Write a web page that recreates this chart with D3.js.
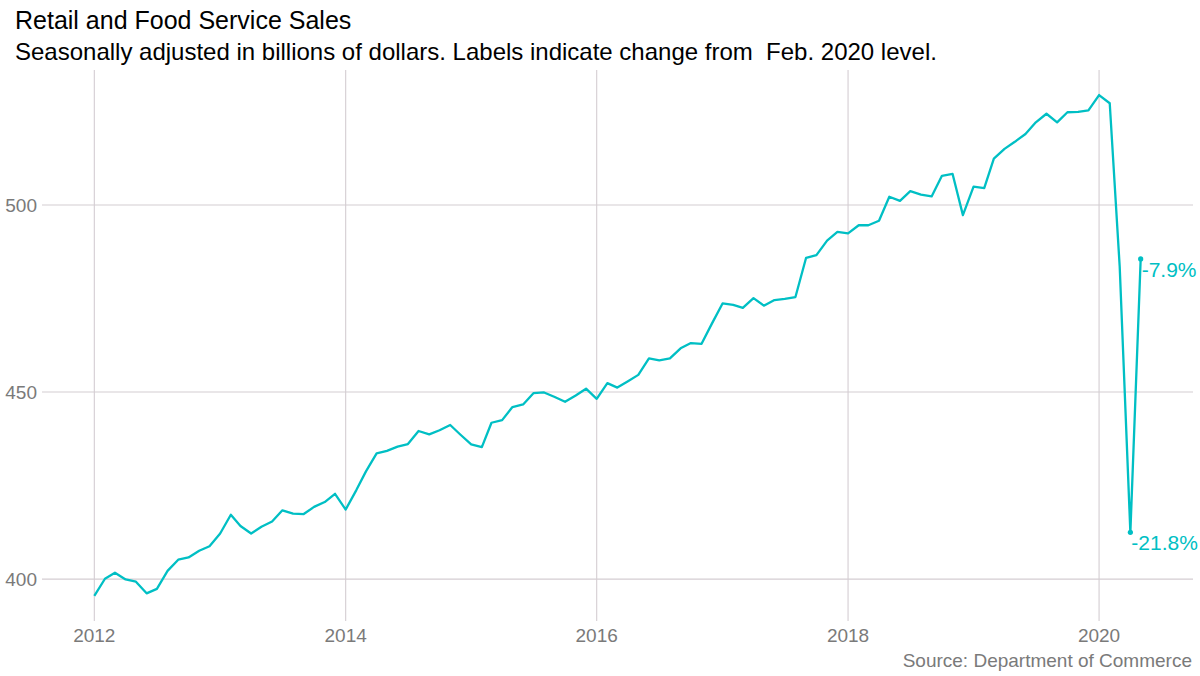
<!DOCTYPE html>
<meta charset="utf-8">
<script src="https://d3js.org/d3.v7.min.js"></script>
<style>
  body { margin: 0; background: #fff; }
  text { font-family: "Liberation Sans", Arial, sans-serif; }
</style>
<body>
<div id="chart"></div>
<script>

var width = 1200
var height = 676

// monthly sales, Jan 2012 .. May 2020
var startMonth = "2012-01"
var sales = [
  395.5, 400.1, 401.7, 399.9, 399.3, 396.2, 397.4, 402.2, 405.2, 405.8, 407.6, 408.8,
  412.2, 417.2, 414.2, 412.2, 414.0, 415.4, 418.4, 417.5, 417.4, 419.3, 420.6, 422.8,
  418.6, 423.8, 428.8, 433.6, 434.3, 435.4, 436.1, 439.6, 438.7, 439.8, 441.2, 438.6,
  436.0, 435.3, 441.8, 442.5, 446.0, 446.7, 449.7, 449.9, 448.7, 447.4, 449.1, 450.9,
  448.2, 452.4, 451.2, 452.9, 454.6, 459.0, 458.5, 459.0, 461.7, 463.1, 462.9, 468.3,
  473.7, 473.3, 472.5, 475.1, 473.1, 474.6, 474.9, 475.4, 485.9, 486.6, 490.5, 492.8,
  492.4, 494.6, 494.6, 495.8, 502.2, 501.1, 503.7, 502.8, 502.3, 507.8, 508.3, 497.3,
  504.9, 504.5, 512.4, 515.0, 516.9, 519.0, 522.1, 524.4, 522.1, 524.8, 524.9, 525.3,
  529.4, 527.2, 483.5, 412.5, 485.6
]
var baseMonth = "2020-02"
var labelMonths = ["2020-04", "2020-05"]
var xTicks = [2012, 2014, 2016, 2018, 2020]
var yTicks = [400, 450, 500]

var parseMonth = d3.timeParse("%Y-%m")
var start = parseMonth(startMonth)
var data = sales.map(function(v, i) {
  return { date: d3.timeMonth.offset(start, i), value: v }
})
var fmt = d3.timeFormat("%Y-%m")
var base = data.find(function(d){ return fmt(d.date) == baseMonth }).value
var labelled = data.filter(function(d){ return labelMonths.indexOf(fmt(d.date)) >= 0 })

var color = "#00BFC4"
var grid = "#d4cdd2"
var axisGrey = "#7a7a7a"

// panel edges (window.top is reserved, hence the names)
var pLeft = 42, pRight = 1193, pTop = 70, pBottom = 621

// ggplot style 5% expansion
var xExt = d3.extent(data, function(d){ return +d.date })
var xPad = (xExt[1] - xExt[0]) * 0.05
var x = d3.scaleTime()
  .domain([new Date(xExt[0] - xPad), new Date(xExt[1] + xPad)])
  .range([pLeft, pRight])

var yExt = d3.extent(data, function(d){ return d.value })
var yPad = (yExt[1] - yExt[0]) * 0.05
var y = d3.scaleLinear()
  .domain([yExt[0] - yPad, yExt[1] + yPad])
  .range([pBottom, pTop])

var svg = d3.select("#chart")
  .append("svg")
    .attr("width", width)
    .attr("height", height)

// gridlines
svg.append("g")
  .selectAll("line")
  .data(yTicks)
  .enter()
  .append("line")
    .attr("x1", pLeft).attr("x2", pRight)
    .attr("y1", function(d){ return y(d) })
    .attr("y2", function(d){ return y(d) })
    .attr("stroke", grid)
    .attr("stroke-width", 1.1)

svg.append("g")
  .selectAll("line")
  .data(xTicks)
  .enter()
  .append("line")
    .attr("x1", function(d){ return x(new Date(d, 0, 1)) })
    .attr("x2", function(d){ return x(new Date(d, 0, 1)) })
    .attr("y1", pTop).attr("y2", pBottom)
    .attr("stroke", grid)
    .attr("stroke-width", 1.1)

// axis labels
svg.append("g")
  .selectAll("text")
  .data(yTicks)
  .enter()
  .append("text")
    .attr("x", 37)
    .attr("y", function(d){ return y(d) })
    .attr("dy", "0.35em")
    .attr("text-anchor", "end")
    .style("font-size", "19px")
    .style("fill", axisGrey)
    .text(function(d){ return d })

svg.append("g")
  .selectAll("text")
  .data(xTicks)
  .enter()
  .append("text")
    .attr("x", function(d){ return x(new Date(d, 0, 1)) })
    .attr("y", 642)
    .attr("text-anchor", "middle")
    .style("font-size", "19px")
    .style("fill", axisGrey)
    .text(function(d){ return d })

// the line
var line = d3.line()
  .x(function(d){ return x(d.date) })
  .y(function(d){ return y(d.value) })

svg.append("path")
  .datum(data)
  .attr("d", line)
  .attr("fill", "none")
  .attr("stroke", color)
  .attr("stroke-width", 2.3)
  .attr("stroke-linejoin", "round")

// points + % change labels
svg.selectAll(".pt")
  .data(labelled)
  .enter()
  .append("circle")
    .attr("cx", function(d){ return x(d.date) })
    .attr("cy", function(d){ return y(d.value) })
    .attr("r", 2.6)
    .attr("fill", color)

svg.selectAll(".lbl")
  .data(labelled)
  .enter()
  .append("text")
    .attr("x", function(d){ return x(d.date) + 1 })
    .attr("y", function(d){ return y(d.value) + 18 })
    .style("font-size", "21px")
    .style("fill", color)
    .text(function(d){ return ((d.value / base - 1) * 100).toFixed(1) + "%" })

// titles
svg.append("text")
  .attr("x", 15).attr("y", 29)
  .style("font-size", "25px")
  .style("fill", "#000")
  .text("Retail and Food Service Sales")

svg.append("text")
  .attr("x", 15).attr("y", 60)
  .style("font-size", "24px")
  .style("fill", "#000")
  .style("white-space", "pre")
  .text("Seasonally adjusted in billions of dollars. Labels indicate change from  Feb. 2020 level.")

svg.append("text")
  .attr("x", 1192).attr("y", 667)
  .attr("text-anchor", "end")
  .style("font-size", "19px")
  .style("fill", axisGrey)
  .text("Source: Department of Commerce")

</script>
</body>
